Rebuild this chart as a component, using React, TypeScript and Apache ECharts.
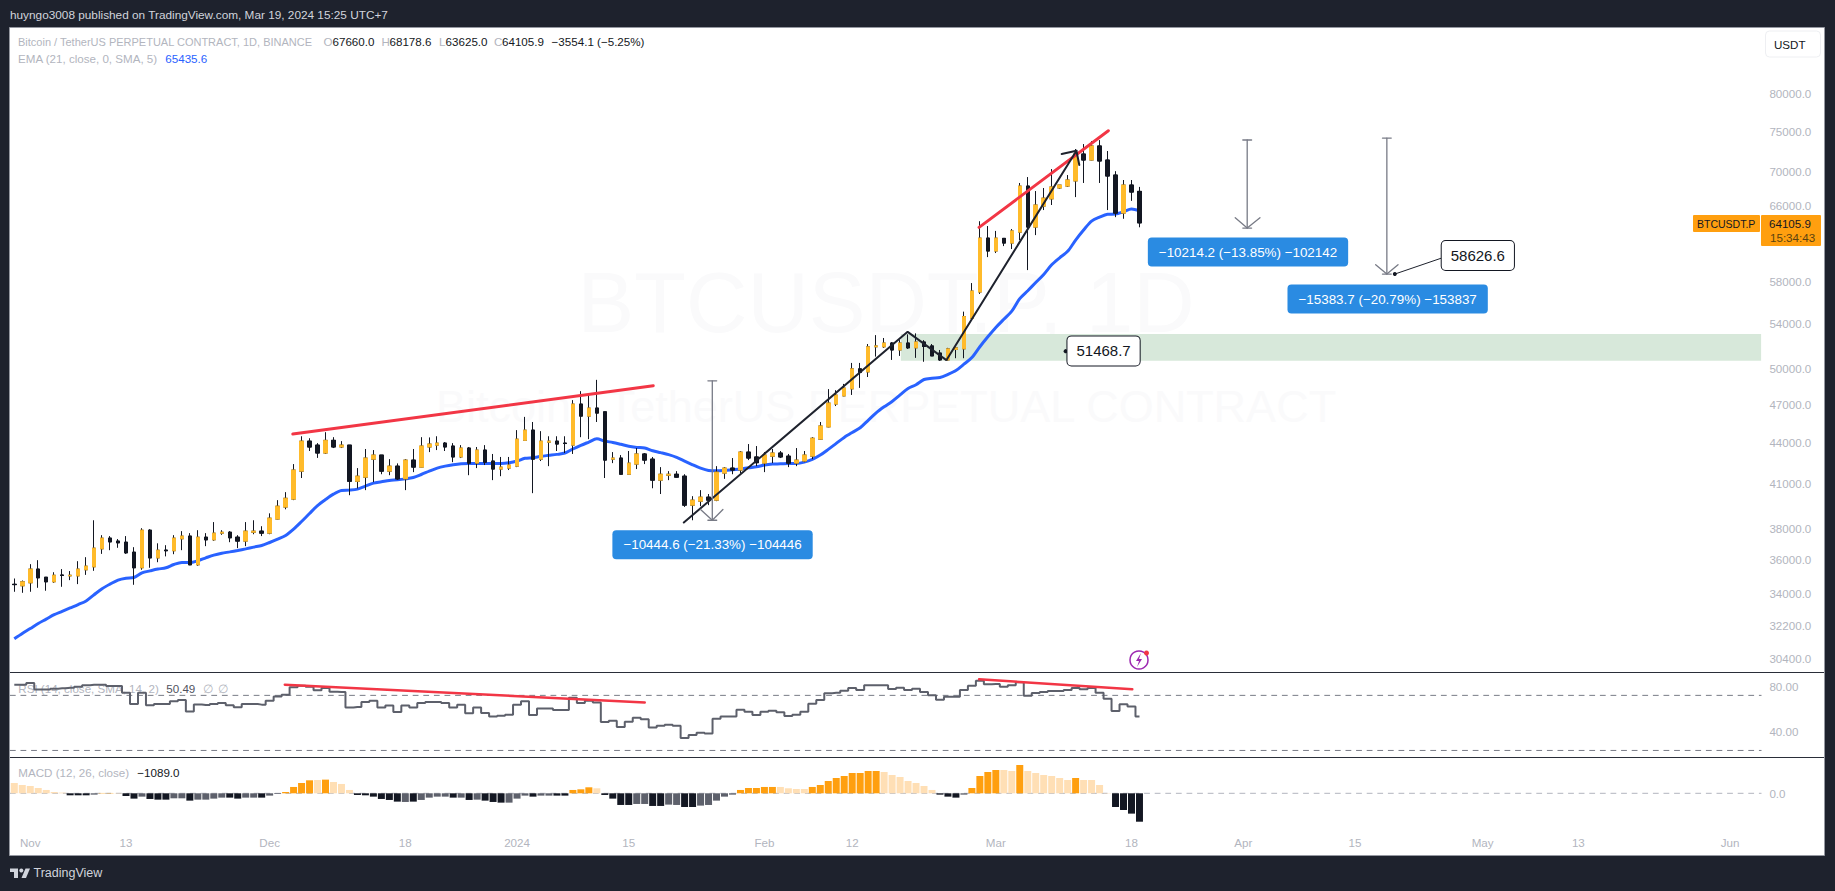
import React, { useEffect, useRef } from "react";
import * as echarts from "echarts";

const FONT = "Liberation Sans";
const UP = "#ffbb2b";
const DOWN = "#131722";
const AXIS_GRAY = "#b2b5be";
const RED = "#f23645";
const ARROW = "#787b86";

const firstDay = Date.UTC(2023, 9, 30);
const dayCount = 220;
const categories: string[] = [];
for (let i = 0; i < dayCount; i++) categories.push(new Date(firstDay + i * 86400000).toISOString().slice(0, 10));

const timeTicks: Record<string, string> = {
  "2023-11-01": "Nov", "2023-11-13": "13", "2023-12-01": "Dec", "2023-12-18": "18", "2024-01-01": "2024",
  "2024-01-15": "15", "2024-02-01": "Feb", "2024-02-12": "12", "2024-03-01": "Mar", "2024-03-18": "18",
  "2024-04-01": "Apr", "2024-04-15": "15", "2024-05-01": "May", "2024-05-13": "13", "2024-06-01": "Jun",
};
const priceTicks = [80000, 75000, 70000, 66000, 58000, 54000, 50000, 47000, 44000, 41000, 38000, 36000, 34000, 32200, 30400];
const rsiTicks = [80, 40];
const macdTicks = [0];

// open, close, low, high
const candleRows = [
  [34530,34510,34090,34874],[34441,34677,34030,34756],[34618,35440,34090,35740],[35440,34914,34323,35985],[34950,34677,34150,34950],
  [34677,35070,34618,35250],[35080,35060,34382,35440],[35030,35070,34776,35320],[35030,35440,34540,35923],[35395,35620,35090,36170],
  [35578,36735,35335,38530],[36690,37370,36375,37560],[37370,37130,36606,37500],[37180,37070,36755,37310],[37110,36440,36375,37500],
  [36480,35520,34500,36795],[35520,37880,35400,38010],[37880,36125,35520,37945],[36125,36606,35860,37040],[36610,36570,36220,36920],
  [36570,37370,36355,37560],[37325,37500,36606,37820],[37500,35700,35680,37690],[35700,37430,35640,37880],[37430,37260,36860,37690],
  [37260,37690,37200,38410],[37690,37750,37580,37880],[37750,37390,37110,37820],[37430,37180,36735,37560],[37180,37820,36860,38410],
  [37750,37820,37620,38530],[37820,37690,37500,38140],[37690,38670,37620,38990],[38610,39470,38590,39880],[39410,40010,39260,40430],
  [39950,41990,39880,42420],[41910,44120,41420,44490],[44120,43676,43380,44340],[43820,43230,42870,43970],[43230,44180,43160,44800],
  [44180,43680,43600,44420],[43680,43820,43600,44120],[43820,41190,40220,43820],[41190,41550,40690,42130],[41480,42860,40570,43530],
  [42780,43080,41130,43450],[43080,41910,41690,43080],[41910,42270,41620,42780],[42270,41360,41290,42470],[41360,42710,40570,42780],
  [42710,42200,41840,43530],[42200,43750,42190,44420],[43680,43900,43300,44400],[43820,43970,43450,44490],[43970,43680,43380,44050],
  [43750,42940,42560,43970],[42940,43600,42860,43820],[43600,42490,41620,43680],[42490,43450,42130,43680],[43450,42560,42350,43820],
  [42640,42060,41270,43160],[42060,42200,41550,42940],[42130,42350,41990,42940],[42270,44270,42200,44960],[44180,44960,44170,45990],
  [44960,42780,40360,45590],[42780,44120,42640,44880],[44040,44120,42270,44490],[44120,43900,43380,44490],[43970,43940,43230,44490],
  [43820,47010,43160,47330],[47010,46050,44420,48060],[46050,46690,44270,47740],[46690,46290,45590,49000],[46390,42710,41420,46390],
  [42780,42860,42490,43300],[42860,41690,41670,43080],[41690,42490,41670,43380],[42420,43160,42060,43600],[43160,42710,42420,43230],
  [42780,41270,40700,42940],[41270,41690,40300,42200],[41620,41690,41270,41910],[41690,41480,41450,41910],[41550,39540,39420,41690],
  [39540,39880,38530,40153],[39810,40085,39470,40570],[40085,39880,39540,40300],[39880,41840,39810,42270],[41770,42130,41360,42200],
  [42130,41990,41690,42860],[41990,43300,41770,43380],[43300,42860,42710,43900],[42940,42520,42270,43750],[42490,43080,41840,43300],
  [43000,43230,42490,43530],[43230,42940,42860,43380],[43000,42490,42200,43160],[42490,42710,42270,43600],[42640,43080,42560,43380],
  [43000,44340,42780,44420],[44270,45280,44250,45590],[45210,47090,45180,48230],[47010,47740,46850,48140],[47670,48320,47650,48660],
  [48250,49930,47750,50440],[49930,49640,48330,50440],[49670,51850,49240,52100],[51850,51930,50990,52900],[51850,52190,51750,52640],
  [52190,51570,50700,52270],[51570,52190,51050,52450],[52190,51760,51660,52970],[51760,52280,50880,53060],[52280,51880,50540,52450],
  [51930,51050,51040,52100],[51300,50700,50620,51570],[50700,51670,50660,51760],[51620,51760,50850,51780],[51670,54610,50850,55070],
  [54450,57050,54350,57830],[56950,62460,56760,64290],[62460,61090,60460,63760],[61090,62460,60880,63230],[62430,61930,61610,62460],
  [61930,63230,61300,63440],[63100,68280,62250,68640],[68280,63650,59130,69340],[63650,66100,62780,67700],[65980,66880,65530,68050],
  [66800,68170,66100,70300],[68050,68400,67950,68400],[68280,68990,68170,69580],[68880,72130,67000,72750],[72130,71390,68640,73370],
  [71390,73130,71350,73750],[73130,71270,68640,73870],[71390,69460,65530,72500],[69580,65190,64740,70040],[65190,68400,64560,68990],
  [68400,67580,66570,68990],[67660,64105.9,63625,68178.6],
];

const emaValues = [
  31450,31740,32010,32290,32530,32780,32970,33160,33350,33560,
  33920,34270,34540,34780,34890,34930,35210,35330,35440,35520,
  35720,35840,35840,35950,36130,36300,36420,36500,36590,36690,
  36800,36900,37090,37300,37540,37950,38450,38980,39510,39920,
  40290,40540,40570,40640,40850,41060,41150,41250,41290,41360,
  41460,41670,41910,42130,42270,42370,42440,42470,42470,42470,
  42470,42470,42520,42640,42840,42890,42990,43060,43130,43230,
  43530,43800,44050,44300,44120,44020,43880,43730,43650,43600,
  43400,43260,43110,42910,42640,42370,42130,41960,41930,41960,
  42010,42060,42150,42225,42350,42420,42440,42470,42470,42560,
  42760,43080,43500,43950,44400,44780,45140,45720,46310,46790,
  47220,47750,48280,48590,49030,49140,49200,49460,49790,50330,
  50910,51860,52750,53600,54350,55120,56310,57080,57880,58690,
  59670,60390,61060,62250,63330,64300,64740,65060,65090,65340,
  65640,65435.6,
];

const rsiValues = [
  82.4,82.4,84.7,76.7,76.7,77.6,78.0,78.8,80.0,81.7,
  82.4,82.4,80.8,80.8,73.0,61.3,73.0,60.1,61.3,61.3,
  63.9,65.1,54.7,60.9,60.4,61.3,62.3,60.1,58.3,61.3,
  61.3,60.7,64.4,68.9,70.7,79.2,81.3,80.0,75.7,78.4,
  74.1,73.7,58.0,58.6,63.2,64.5,58.0,59.8,54.2,59.8,
  58.0,62.3,63.2,63.2,62.3,58.0,60.7,53.2,58.0,53.4,
  50.5,51.2,52.0,60.7,63.9,51.7,57.1,57.1,55.9,55.9,
  67.5,62.3,64.5,62.6,46.5,47.4,43.0,46.7,49.7,48.5,
  42.7,43.8,44.6,43.8,36.3,38.0,39.4,38.9,48.9,50.5,
  50.5,56.2,54.5,51.8,54.5,55.3,53.9,51.0,52.0,54.5,
  61.6,65.2,72.2,72.9,75.2,78.4,75.9,81.7,81.7,81.7,
  77.2,78.8,75.9,77.6,73.7,70.05,65.4,68.6,68.6,75.9,
  81.3,87.8,83.1,83.5,80.0,81.7,85.6,69.7,72.6,73.7,
  74.9,74.9,75.9,78.4,76.8,78.4,72.9,66.5,55.0,61.0,
  58.9,50.49,
];

const macdValues = [
  396,319,281,204,128,51,26,-77,-77,-77,
  -51,13,13,13,-102,-204,-128,-217,-243,-243,
  -192,-192,-281,-243,-243,-204,-166,-166,-204,-166,
  -166,-166,-89,-26,51,243,396,498,511,524,
  434,358,128,-64,-77,-128,-217,-255,-319,-332,
  -319,-255,-166,-128,-128,-166,-166,-255,-243,-281,
  -332,-358,-358,-204,-89,-128,-89,-89,-89,-89,
  128,153,230,192,-64,-204,-447,-447,-409,-409,
  -485,-485,-434,-447,-524,-524,-472,-447,-281,-128,
  -51,128,204,204,243,243,243,192,166,166,
  243,319,472,587,664,779,779,856,856,817,
  702,626,472,396,281,128,-51,-128,-166,-51,
  204,664,817,894,894,856,1085,856,779,702,
  664,587,511,587,511,511,319,13,-524,-639,
  -779,-1089,
];
const macdKinds = "LLLLLLLBBBGOOLBBGBBBGGBGGGGBBGGBGGOOOOLOLLLBBBBBBGBGGGGBGBGBBBGGGBGGBBOOOLBBBBGGBBGGBBGGGGGOOOOOLLLLOOOOOOOOOLLLLLLLBBBGOOOOLLOLLLLLLOLLLLBBBB";
const macdColors: Record<string, string> = { L: "#ffdfb5", O: "#ff9f0f", B: "#131722", G: "#5d606b" };

// trend drawings: [bar index, price]
const redTrend1 = [[34.9, 44660], [80.07, 48510]];
const redTrend2 = [[120.9, 63620], [137.1, 75060]];
const blackTrend = [[83.9, 38380], [111.95, 53200], [116.8, 50680], [133.1, 72540]];
const blackHead = [[131.25, 72130], [133.1, 72540], [133.46, 70780]];
const rsiRed1 = [[33.9, 82.5], [79, 62.8]];
const rsiRed2 = [[120.9, 89.6], [140.1, 76.9]];
const measureArrows = [
  { x: 87.47, top: 48920, tip: 38530, left: 86, right: 88.8, barb: 39250 },
  { x: 154.5, top: 73880, tip: 63540, left: 153, right: 156.1, barb: 64680 },
  { x: 172, top: 74130, tip: 58730, left: 170.6, right: 173.4, barb: 59680 },
];
const measureLabels = [
  { x: 87.5, y: 36950, text: "\u221210444.6 (\u221221.33%) \u2212104446" },
  { x: 154.6, y: 60980, text: "\u221210214.2 (\u221213.85%) \u2212102142" },
  { x: 172.1, y: 56270, text: "\u221215383.7 (\u221220.79%) \u2212153837" },
];
const callouts = [
  { x: 183.4, y: 60630, text: "58626.6" },
  { x: 136.5, y: 51490, text: "51468.7" },
];
const calloutLine = [[173, 58730], [178.9, 60370]];
const calloutDots = [[173, 58730], [131.75, 51468.7]];
const greenZone = { x0: 111.1, x1: 218.9, hi: 53000, lo: 50630 };

const LEFT = 10.3;
const BAR = 7.98;
const XMAX = dayCount - 0.5;
const LEGEND = 11.6;

const drawLine = (name: string, data: number[][], color: string, width: number, xi = 3, yi = 0, type: any = "solid", z = 6) => ({
  name, type: "line", data, xAxisIndex: xi, yAxisIndex: yi, symbol: "none", silent: true, z, clip: true,
  lineStyle: { color, width, type, cap: "round" },
});

const tickSeries = (name: string, data: number[], xi: number, yi: number, digits: number) => ({
  name, type: "scatter", xAxisIndex: xi, yAxisIndex: yi, silent: true, clip: false, z: 4,
  data: data.map((v) => [XMAX, v]), symbolSize: 1, itemStyle: { color: "transparent", opacity: 1 },
  label: {
    show: true, position: "right", distance: 3, color: AXIS_GRAY, fontFamily: FONT, fontSize: LEGEND,
    formatter: (p: any) => p.value[1].toFixed(digits),
  },
});

const txt = (text: string, x: number, y: number, fill: string, size = LEGEND, extra: any = {}) => ({
  type: "text", x, y, z: extra.z ?? 3, silent: true,
  style: { text, fill, fontFamily: FONT, fontSize: size, textAlign: extra.align ?? "left", textVerticalAlign: "middle" },
});

const rect = (x: number, y: number, width: number, height: number, style: any, z = 100, r = 0) => ({
  type: "rect", silent: true, z, shape: { x, y, width, height, r }, style,
});

const graphicElements: any[] = [
  rect(9.5, 27.5, 1815, 828, { fill: "#ffffff", stroke: "#9598a1", lineWidth: 1 }, 0),
  txt("BTCUSDT.P, 1D", 886, 302, "#fafafb", 85, { align: "center", z: 1 }),
  txt("Bitcoin / TetherUS PERPETUAL CONTRACT", 886, 406, "#fafafb", 45, { align: "center", z: 1 }),
  { type: "line", silent: true, z: 3, shape: { x1: 10, y1: 672.5, x2: 1824, y2: 672.5 }, style: { stroke: "#2a2e39", lineWidth: 1 } },
  { type: "line", silent: true, z: 3, shape: { x1: 10, y1: 757.5, x2: 1824, y2: 757.5 }, style: { stroke: "#2a2e39", lineWidth: 1 } },
  txt("huyngo3008 published on TradingView.com, Mar 19, 2024 15:25 UTC+7", 10, 15, "#d1d4dc", 11.8),
  txt("Bitcoin / TetherUS PERPETUAL CONTRACT, 1D, BINANCE", 18, 41.5, AXIS_GRAY, 11),
  txt("O", 323.5, 41.5, AXIS_GRAY), txt("67660.0", 332.5, 41.5, "#131722"),
  txt("H", 381.5, 41.5, AXIS_GRAY), txt("68178.6", 389.5, 41.5, "#131722"),
  txt("L", 439, 41.5, AXIS_GRAY), txt("63625.0", 445.6, 41.5, "#131722"),
  txt("C", 494, 41.5, AXIS_GRAY), txt("64105.9", 502, 41.5, "#131722"),
  txt("\u22123554.1 (\u22125.25%)", 551.6, 41.5, "#131722"),
  txt("EMA (21, close, 0, SMA, 5)", 18, 58.5, AXIS_GRAY), txt("65435.6", 165.3, 58.5, "#2962ff"),
  txt("RSI (14, close, SMA, 14, 2)", 18.3, 688, AXIS_GRAY), txt("50.49", 166.3, 688, "#50535e"),
  txt("\u2205", 203, 688, AXIS_GRAY), txt("\u2205", 218, 688, AXIS_GRAY),
  txt("MACD (12, 26, close)", 18.3, 772.7, AXIS_GRAY), txt("\u22121089.0", 137.3, 772.7, "#131722"),
  rect(1765.5, 31, 55, 26, { fill: "#ffffff", stroke: "#eeeff2", lineWidth: 1 }, 100, 4),
  txt("USDT", 1774, 44, "#131722", LEGEND, { z: 101 }),
  rect(1693, 215, 67, 17, { fill: "#ff9f0f" }, 100, 1),
  txt("BTCUSDT.P", 1697, 223.5, "#131722", 10.5, { z: 101 }),
  rect(1761, 215, 60, 31, { fill: "#ff9f0f" }, 100, 1),
  txt("64105.9", 1769, 223.5, "#131722", LEGEND, { z: 101 }),
  txt("15:34:43", 1770, 237.5, "#5a4310", LEGEND, { z: 101 }),
  { type: "circle", silent: true, z: 7, shape: { cx: 1139, cy: 660, r: 9 }, style: { fill: "#ffffff", stroke: "#9c27b0", lineWidth: 1.5 } },
  { type: "polygon", silent: true, z: 8, shape: { points: [[1141, 653], [1136, 661], [1139, 661], [1137, 667], [1142, 659], [1139, 659]] }, style: { fill: "#9c27b0" } },
  { type: "circle", silent: true, z: 9, shape: { cx: 1146.5, cy: 653, r: 2.5 }, style: { fill: "#f23645" } },
  rect(10, 868.5, 8, 3.5, { fill: "#d1d4dc" }, 3),
  rect(14, 872, 4, 6, { fill: "#d1d4dc" }, 3),
  { type: "circle", silent: true, z: 3, shape: { cx: 21.3, cy: 870.5, r: 2 }, style: { fill: "#d1d4dc" } },
  { type: "polygon", silent: true, z: 3, shape: { points: [[25.5, 868.5], [30, 868.5], [26, 878], [21.5, 878]] }, style: { fill: "#d1d4dc" } },
  txt("TradingView", 33.5, 873, "#d1d4dc", 12.5),
];

export default function App() {
  const ref = useRef<HTMLDivElement>(null);
  useEffect(() => {
    document.documentElement.style.background = "#1e222d";
    document.body.style.margin = "0";
    document.body.style.overflow = "hidden";
    const chart = echarts.init(ref.current!, undefined, { renderer: "svg" });
    const width = BAR * dayCount;
    const grids = [
      { left: LEFT, width, top: 27, height: 645.3 },
      { left: LEFT, width, top: 672.3, height: 85 },
      { left: LEFT, width, top: 757.3, height: 70.7 },
    ];
    const catAxis = (gridIndex: number, show: boolean) => ({
      type: "category", gridIndex, data: categories, show,
      axisLine: { show: false }, axisTick: { show: false }, splitLine: { show: false },
      axisLabel: {
        show, color: AXIS_GRAY, fontFamily: FONT, fontSize: LEGEND, margin: 8, hideOverlap: false,
        interval: (_: number, v: string) => timeTicks[v] !== undefined,
        formatter: (v: string) => timeTicks[v] ?? "",
      },
    });
    const overlay = (gridIndex: number) => ({ type: "value", gridIndex, min: -0.5, max: XMAX, show: false, splitLine: { show: false } });
    const hiddenY = (o: any) => ({ show: false, splitLine: { show: false }, ...o });

    const arrowSeries: any[] = [];
    measureArrows.forEach((a, i) => {
      arrowSeries.push(drawLine("Measure shaft " + i, [[a.x, a.top], [a.x, a.tip]], ARROW, 1.3));
      arrowSeries.push(drawLine("Measure top cap " + i, [[a.x - 0.55, a.top], [a.x + 0.55, a.top]], ARROW, 1.3));
      arrowSeries.push(drawLine("Measure tip cap " + i, [[a.x - 0.55, a.tip], [a.x + 0.55, a.tip]], ARROW, 1.3));
      arrowSeries.push(drawLine("Measure head " + i, [[a.left, a.barb], [a.x, a.tip], [a.right, a.barb]], ARROW, 1.3));
    });

    chart.setOption({
      animation: false,
      backgroundColor: "#1e222d",
      textStyle: { fontFamily: FONT },
      tooltip: { show: false },
      legend: { show: false },
      grid: grids,
      xAxis: [catAxis(0, false), catAxis(1, false), catAxis(2, true), overlay(0), overlay(1), overlay(2)],
      yAxis: [
        hiddenY({ type: "log", logBase: Math.E, gridIndex: 0, min: 29700, max: 89650 }),
        hiddenY({ type: "log", logBase: Math.E, gridIndex: 1, min: 27, max: 99.8 }),
        hiddenY({ type: "value", gridIndex: 2, min: -1330, max: 1380 }),
      ],
      graphic: { elements: graphicElements },
      series: [
        {
          name: "Demand zone", type: "line", xAxisIndex: 3, yAxisIndex: 0, data: [], silent: true, z: 1,
          markArea: {
            silent: true, itemStyle: { color: "#d7e8da" },
            data: [[{ xAxis: greenZone.x0, yAxis: greenZone.hi }, { xAxis: greenZone.x1, yAxis: greenZone.lo }]],
          },
        },
        {
          name: "EMA 21", type: "line", xAxisIndex: 0, yAxisIndex: 0, data: emaValues, symbol: "none", silent: true, z: 2,
          smooth: 0.3, lineStyle: { color: "#2962ff", width: 3 },
        },
        {
          name: "Wicks", type: "candlestick", xAxisIndex: 0, yAxisIndex: 0, barWidth: 4, silent: true, z: 3,
          data: candleRows,
          itemStyle: { color: DOWN, color0: DOWN, borderColor: DOWN, borderColor0: DOWN, borderColorDoji: DOWN, borderWidth: 1 },
        },
        {
          name: "Bodies", type: "candlestick", xAxisIndex: 0, yAxisIndex: 0, barWidth: 4, silent: true, z: 4,
          data: candleRows.map(([o, c]) => [o, c, Math.min(o, c), Math.max(o, c)]),
          itemStyle: { color: UP, color0: DOWN, borderColor: UP, borderColor0: DOWN, borderColorDoji: DOWN, borderWidth: 1 },
        },
        drawLine("Red trend 1", redTrend1, RED, 3),
        drawLine("Red trend 2", redTrend2, RED, 3),
        drawLine("Black trend", blackTrend, "#1e222d", 2),
        drawLine("Black arrow head", blackHead, "#1e222d", 2),
        ...arrowSeries,
        drawLine("Callout leader", calloutLine, "#1e222d", 1),
        {
          name: "Callout anchors", type: "scatter", xAxisIndex: 3, yAxisIndex: 0, silent: true, z: 7, symbolSize: 4,
          data: calloutDots, itemStyle: { color: "#131722", opacity: 1 },
        },
        {
          name: "Measure labels", type: "scatter", xAxisIndex: 3, yAxisIndex: 0, silent: true, clip: false, z: 8, symbolSize: 1,
          itemStyle: { color: "transparent", opacity: 1 },
          data: measureLabels.map((l) => ({ value: [l.x, l.y], name: l.text })),
          label: {
            show: true, position: "inside", formatter: (p: any) => p.name, color: "#ffffff", fontFamily: FONT, fontSize: 13.4, fontWeight: 500,
            backgroundColor: "#2a8be2", borderRadius: 4, padding: [8, 11],
          },
        },
        {
          name: "Callouts", type: "scatter", xAxisIndex: 3, yAxisIndex: 0, silent: true, clip: false, z: 8, symbolSize: 1,
          itemStyle: { color: "transparent", opacity: 1 },
          data: callouts.map((l) => ({ value: [l.x, l.y], name: l.text })),
          label: {
            show: true, position: "inside", formatter: (p: any) => p.name, color: "#131722", fontFamily: FONT, fontSize: 15,
            backgroundColor: "#ffffff", borderColor: "#131722", borderWidth: 1, borderRadius: 4, padding: [7, 9],
          },
        },
        tickSeries("Price ticks", priceTicks, 3, 0, 1),

        drawLine("RSI 70", [[-0.5, 70], [218.9, 70]], ARROW, 1, 4, 1, [5, 5.6], 2),
        drawLine("RSI 30", [[-0.5, 30], [218.9, 30]], ARROW, 1, 4, 1, [5, 5.6], 2),
        {
          name: "RSI", type: "line", xAxisIndex: 1, yAxisIndex: 1, data: rsiValues, step: "middle", symbol: "none", silent: true, z: 3,
          lineStyle: { color: "#5d606b", width: 2 },
        },
        drawLine("RSI red 1", rsiRed1, RED, 2.5, 4, 1),
        drawLine("RSI red 2", rsiRed2, RED, 2.5, 4, 1),
        tickSeries("RSI ticks", rsiTicks, 4, 1, 2),

        {
          name: "MACD histogram", type: "bar", xAxisIndex: 2, yAxisIndex: 2, barWidth: 7, silent: true, z: 2,
          data: macdValues.map((v, i) => ({ value: v, itemStyle: { color: macdColors[macdKinds[i]] } })),
        },
        drawLine("MACD zero", [[-0.5, 0], [218.9, 0]], AXIS_GRAY, 1, 5, 2, [5, 5.6], 1),
        tickSeries("MACD ticks", macdTicks, 5, 2, 1),
      ],
    });
    return () => chart.dispose();
  }, []);
  return (
    <div style={{ width: 1835, height: 891 }}>
      <div ref={ref} style={{ width: 1835, height: 891 }} />
    </div>
  );
}
